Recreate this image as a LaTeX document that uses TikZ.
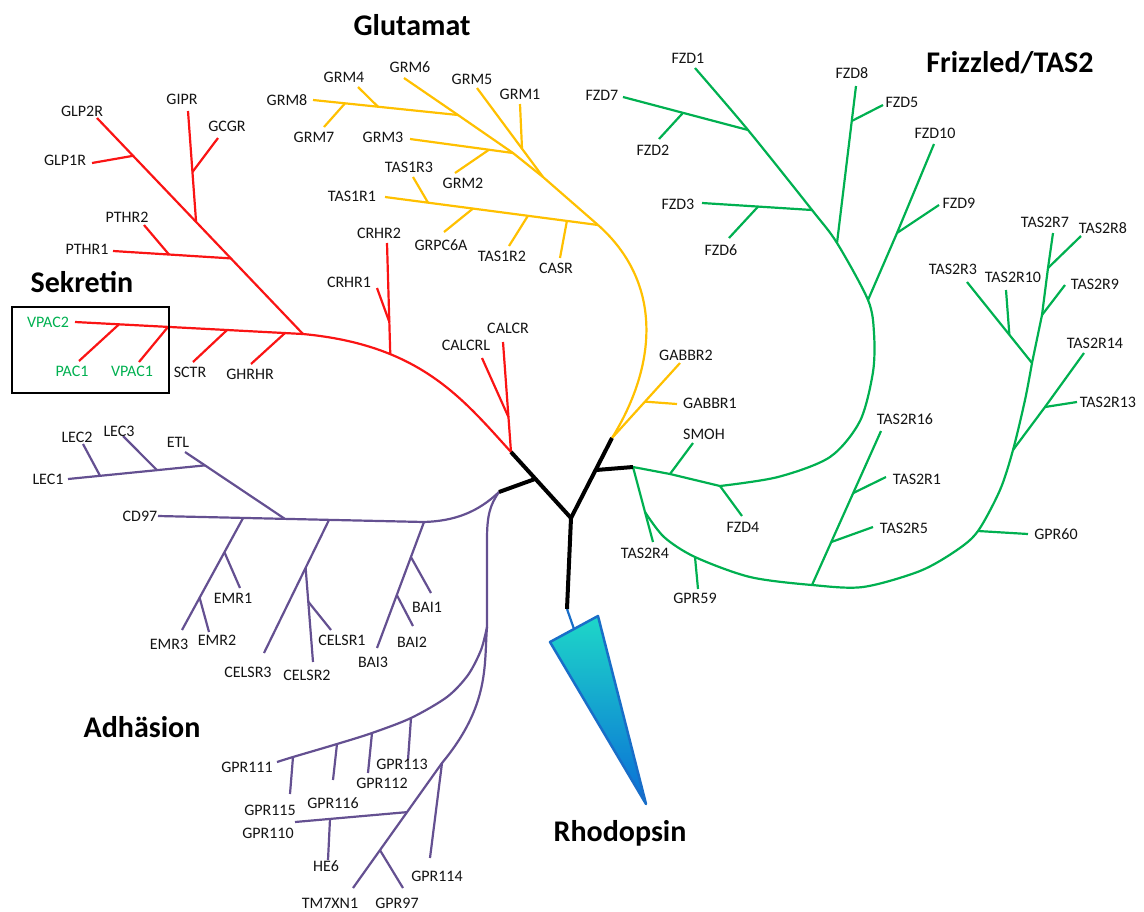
\documentclass[tikz,border=0pt]{standalone}
\usepackage{fontspec}
\setmainfont{Carlito}
\definecolor{cred}{RGB}{250,20,20}
\definecolor{cyel}{RGB}{255,192,0}
\definecolor{cgrn}{RGB}{0,176,80}
\definecolor{cpur}{RGB}{100,80,145}
\definecolor{ctxt}{RGB}{20,20,20}
\definecolor{rhotop}{RGB}{30,215,200}
\definecolor{rhobot}{RGB}{10,110,215}
\definecolor{rhoedge}{RGB}{25,110,200}
\begin{document}
\begin{tikzpicture}[x=1pt,y=-1pt,
  lbl/.style={font=\fontsize{16}{18}\selectfont, text=ctxt, inner sep=0pt},
  glbl/.style={lbl, text=cgrn},
  ttl/.style={font=\fontsize{30}{34}\selectfont\bfseries, text=black, inner sep=0pt},
  br/.style={line width=2.2pt, line join=round},
  rb/.style={br, cred}, yb/.style={br, cyel}, gb/.style={br, cgrn}, pb/.style={br, cpur},
  core/.style={line width=4pt, black, line join=round}]
\path[use as bounding box] (0,0) rectangle (1144,911);

% ---------- core coordinates
\coordinate (cR) at (511,452);
\coordinate (cM1) at (535,479);
\coordinate (cP) at (499,492);
\coordinate (cC) at (571,518);
\coordinate (cB) at (567,609);
\coordinate (cY) at (612,438);
\coordinate (cYj) at (596,470);
\coordinate (cG) at (633,467);

% ---------- Rhodopsin
\coordinate (rhT) at (574,629);
\draw[line width=2.2pt, rhoedge] (cB) -- (rhT);
\shadedraw[top color=rhotop, bottom color=rhobot, draw=rhoedge, line width=2.5pt, line join=round]
  (550,642) -- (598,616) -- (646,804) -- cycle;
\node[ttl] (tRho) at (620,833) {Rhodopsin};

% ---------- Sekretin (red)
\coordinate (rA) at (303,334);
\coordinate (eVP2) at (75,322);
\draw[rb] (cR) .. controls (462,398) and (420,345) .. (rA) coordinate[pos=0.7] (jCRH);
\draw[rb] (rA) -- (eVP2) coordinate[pos=0.079] (jGH) coordinate[pos=0.333] (jSC)
   coordinate[pos=0.592] (jV1) coordinate[pos=0.807] (jPA);
\coordinate (eGLP2) at (97,118);
\draw[rb] (rA) -- (eGLP2) coordinate[pos=0.35] (jPT) coordinate[pos=0.519] (jGI) coordinate[pos=0.825] (jGL1);
\coordinate (eGLP1) at (92,163);
\coordinate (eGIPR) at (188,111);
\coordinate (eGCGR) at (218,138);
\coordinate (ePT1) at (113,251);
\coordinate (ePT2) at (144,225);
\draw[rb] (jGL1) -- (eGLP1);
\draw[rb] (jGI) -- (eGIPR) coordinate[pos=0.45] (jGC);
\draw[rb] (jGC) -- (eGCGR);
\draw[rb] (jPT) -- (ePT1) coordinate[pos=0.525] (jPT2);
\draw[rb] (jPT2) -- (ePT2);
\coordinate (eGH) at (251,364);
\coordinate (eSC) at (193,362);
\coordinate (eV1) at (139,362);
\coordinate (ePA) at (79,361);
\draw[rb] (jGH) -- (eGH);
\draw[rb] (jSC) -- (eSC);
\draw[rb] (jV1) -- (eV1);
\draw[rb] (jPA) -- (ePA);
\coordinate (eCR2) at (387,243);
\coordinate (eCR1) at (377,288);
\draw[rb] (jCRH) -- (eCR2) coordinate[pos=0.29] (jCR1);
\draw[rb] (jCR1) -- (eCR1);
\coordinate (eCA) at (503,342);
\coordinate (eCAL) at (482,358);
\draw[rb] (cR) -- (eCA) coordinate[pos=0.318] (jCAL);
\draw[rb] (jCAL) -- (eCAL);

\node[draw=black, line width=2pt, inner sep=0pt, minimum width=157pt, minimum height=86pt] (box) at (90.5,350) {};
\node[ttl] (tSek) at (82,282) {Sekretin};
\node[lbl] (nGLP2R) at (82,111) {GLP2R};
\node[lbl] (nGLP1R) at (65,160) {GLP1R};
\node[lbl] (nGIPR) at (182,99) {GIPR};
\node[lbl] (nGCGR) at (227,126) {GCGR};
\node[lbl] (nPTHR2) at (127,217) {PTHR2};
\node[lbl] (nPTHR1) at (87,249) {PTHR1};
\node[glbl] (nVPAC2) at (48,322) {VPAC2};
\node[glbl] (nPAC1) at (72,371) {PAC1};
\node[glbl] (nVPAC1) at (132,371) {VPAC1};
\node[lbl] (nSCTR) at (190,372) {SCTR};
\node[lbl] (nGHRHR) at (250,374) {GHRHR};
\node[lbl] (nCRHR2) at (379,233) {CRHR2};
\node[lbl] (nCRHR1) at (349,282) {CRHR1};
\node[lbl] (nCALCRL) at (466,345) {CALCRL};
\node[lbl] (nCALCR) at (508,328) {CALCR};

% ---------- Glutamat (yellow)
\coordinate (yT1) at (598,225);
\coordinate (yT2) at (543,177);
\coordinate (yT3) at (513,153);
\coordinate (yT4) at (458,115);
\coordinate (eGM6) at (404,78);
\draw[yb] (cY) .. controls (660,360) and (660,280) .. (yT1);
\coordinate (eGB2) at (680,363);
\coordinate (eGB1) at (677,404);
\draw[yb] (cY) -- (eGB2) coordinate[pos=0.485] (jGB1);
\draw[yb] (jGB1) -- (eGB1);
\coordinate (eTA1) at (385,197);
\draw[yb] (yT1) -- (eTA1) coordinate[pos=0.146] (jCAS) coordinate[pos=0.329] (jTA2)
   coordinate[pos=0.587] (jGP6) coordinate[pos=0.798] (jTA3);
\coordinate (eCAS) at (560,258);
\coordinate (eTA2) at (509,246);
\coordinate (eGP6) at (444,232);
\coordinate (eTA3) at (413,177);
\draw[yb] (jCAS) -- (eCAS);
\draw[yb] (jTA2) -- (eTA2);
\draw[yb] (jGP6) -- (eGP6);
\draw[yb] (jTA3) -- (eTA3);
\draw[yb] (yT1) -- (yT2) -- (yT3) -- (yT4) -- (eGM6);
\coordinate (eGM5) at (477,88);
\coordinate (eGM1) at (520,104);
\draw[yb] (yT2) -- (eGM5) coordinate[pos=0.318] (jGM1);
\draw[yb] (jGM1) -- (eGM1);
\coordinate (eGM3) at (410,139);
\coordinate (eGM2) at (455,173);
\draw[yb] (yT3) -- (eGM3) coordinate[pos=0.233] (jGM2);
\draw[yb] (jGM2) -- (eGM2);
\coordinate (eGM8) at (313,100);
\coordinate (eGM4) at (358,87);
\coordinate (eGM7) at (324,127);
\draw[yb] (yT4) -- (eGM8) coordinate[pos=0.552] (jGM4) coordinate[pos=0.779] (jGM7);
\draw[yb] (jGM4) -- (eGM4);
\draw[yb] (jGM7) -- (eGM7);

\node[ttl] (tGlu) at (412,25) {Glutamat};
\node[lbl] (nGRM8) at (287,100) {GRM8};
\node[lbl] (nGRM4) at (344,77) {GRM4};
\node[lbl] (nGRM7) at (314,137) {GRM7};
\node[lbl] (nGRM6) at (410,67) {GRM6};
\node[lbl] (nGRM5) at (472,79) {GRM5};
\node[lbl] (nGRM1) at (520,94) {GRM1};
\node[lbl] (nGRM3) at (383,137) {GRM3};
\node[lbl] (nGRM2) at (463,183) {GRM2};
\node[lbl] (nTAS1R3) at (409,167) {TAS1R3};
\node[lbl] (nTAS1R1) at (352,196) {TAS1R1};
\node[lbl] (nGRPC6A) at (441,245) {GRPC6A};
\node[lbl] (nTAS1R2) at (502,256) {TAS1R2};
\node[lbl] (nCASR) at (556,268) {CASR};
\node[lbl] (nGABBR2) at (686,355) {GABBR2};
\node[lbl] (nGABBR1) at (710,403) {GABBR1};

% ---------- Frizzled / TAS2 (green)
\coordinate (gS) at (670,474);
\coordinate (gF4) at (720,486);
\coordinate (gF10) at (868,300);
\coordinate (gF8) at (837,243);
\coordinate (gF3) at (812,210);
\coordinate (gF7) at (748,130);
\coordinate (eFZ1) at (695,68);
\draw[gb] (cG) -- (gS) -- (gF4);
\draw[gb] plot[smooth] coordinates {(gF4) (778,477) (830,457) (860,421) (873,372) (874,333) (gF10) (gF8) (gF3) (gF7) (eFZ1)};
\coordinate (gT4) at (645,512);
\coordinate (gP59) at (695,557);
\coordinate (gT16) at (812,585);
\coordinate (gP60) at (978,531);
\coordinate (gT13) at (1013,450);
\coordinate (gT3) at (1032,363);
\coordinate (gT9) at (1042,315);
\coordinate (gT8) at (1048,268);
\coordinate (eT7) at (1053,233);
\draw[gb] (cG) -- (gT4);
\draw[gb] plot[smooth] coordinates {(gT4) (664,537) (gP59) (750,577) (gT16) (863,587) (920,571) (957,550) (gP60) (1000,490) (gT13) (1025,400) (gT3)};
\draw[gb] (gT3) -- (gT9) -- (gT8) -- (eT7);
\coordinate (eSM) at (693,443);
\coordinate (eFZ4) at (742,516);
\coordinate (eT4) at (653,542);
\coordinate (eP59) at (698,589);
\draw[gb] (gS) -- (eSM);
\draw[gb] (gF4) -- (eFZ4);
\draw[gb] (gT4) -- (eT4);
\draw[gb] (gP59) -- (eP59);
\coordinate (eT16) at (881,431);
\coordinate (eT5) at (873,527);
\coordinate (eT1) at (886,477);
\draw[gb] (gT16) -- (eT16) coordinate[pos=0.279] (jT5) coordinate[pos=0.597] (jT1);
\draw[gb] (jT5) -- (eT5);
\draw[gb] (jT1) -- (eT1);
\coordinate (eP60) at (1028,534);
\draw[gb] (gP60) -- (eP60);
\coordinate (gT13b) at (1045,407);
\coordinate (eT14) at (1084,353);
\coordinate (eT13) at (1077,402);
\draw[gb] (gT13) -- (gT13b) -- (eT14);
\draw[gb] (gT13b) -- (eT13);
\coordinate (eT3) at (967,282);
\coordinate (eT10) at (1006,290);
\draw[gb] (gT3) -- (eT3) coordinate[pos=0.348] (jT10);
\draw[gb] (jT10) -- (eT10);
\coordinate (eT9) at (1065,285);
\coordinate (eT8) at (1081,236);
\draw[gb] (gT9) -- (eT9);
\draw[gb] (gT8) -- (eT8);
\coordinate (gF9) at (897,233);
\coordinate (eFZ10) at (934,144);
\coordinate (eFZ9) at (939,205);
\draw[gb] (gF10) -- (gF9) -- (eFZ10);
\draw[gb] (gF9) -- (eFZ9);
\coordinate (eFZ8) at (856,86);
\coordinate (eFZ5) at (883,105);
\draw[gb] (gF8) -- (eFZ8) coordinate[pos=0.777] (jFZ5);
\draw[gb] (jFZ5) -- (eFZ5);
\coordinate (eFZ3) at (702,203);
\coordinate (eFZ6) at (729,238);
\draw[gb] (gF3) -- (eFZ3) coordinate[pos=0.49] (jFZ6);
\draw[gb] (jFZ6) -- (eFZ6);
\coordinate (eFZ7) at (623,97);
\coordinate (eFZ2) at (659,139);
\draw[gb] (gF7) -- (eFZ7) coordinate[pos=0.52] (jFZ2);
\draw[gb] (jFZ2) -- (eFZ2);

\node[ttl] (tFri) at (1010,63) {Frizzled/TAS2};
\node[lbl] (nFZD1) at (688,58) {FZD1};
\node[lbl] (nFZD7) at (602,95) {FZD7};
\node[lbl] (nFZD2) at (653,150) {FZD2};
\node[lbl] (nFZD3) at (678,204) {FZD3};
\node[lbl] (nFZD6) at (721,250) {FZD6};
\node[lbl] (nFZD8) at (852,73) {FZD8};
\node[lbl] (nFZD5) at (902,102) {FZD5};
\node[lbl] (nFZD10) at (935,133) {FZD10};
\node[lbl] (nFZD9) at (959,203) {FZD9};
\node[lbl] (nSMOH) at (704,434) {SMOH};
\node[lbl] (nFZD4) at (743,527) {FZD4};
\node[lbl] (nTAS2R4) at (645,553) {TAS2R4};
\node[lbl] (nGPR59) at (695,598) {GPR59};
\node[lbl] (nTAS2R16) at (905,419) {TAS2R16};
\node[lbl] (nTAS2R1) at (917,479) {TAS2R1};
\node[lbl] (nTAS2R5) at (904,528) {TAS2R5};
\node[lbl] (nGPR60) at (1056,534) {GPR60};
\node[lbl] (nTAS2R13) at (1108,402) {TAS2R13};
\node[lbl] (nTAS2R14) at (1095,343) {TAS2R14};
\node[lbl] (nTAS2R9) at (1095,284) {TAS2R9};
\node[lbl] (nTAS2R8) at (1103,228) {TAS2R8};
\node[lbl] (nTAS2R7) at (1045,222) {TAS2R7};
\node[lbl] (nTAS2R3) at (953,269) {TAS2R3};
\node[lbl] (nTAS2R10) at (1013,277) {TAS2R10};

% ---------- Adhaesion (purple)
\coordinate (pB) at (424,522);
\coordinate (eCD) at (158,516);
\draw[pb] (cP) .. controls (478,512) and (455,521) .. (pB) -- (eCD)
   coordinate[pos=0.357] (pCE) coordinate[pos=0.523] (pE) coordinate[pos=0.680] (pEM);
\coordinate (eETL) at (185,452);
\draw[pb] (pE) -- (eETL) coordinate[pos=0.8] (pL);
\coordinate (eLE1) at (68,479);
\coordinate (eLE3) at (123,436);
\coordinate (eLE2) at (83,444);
\draw[pb] (pL) -- (eLE1) coordinate[pos=0.35] (jLE3) coordinate[pos=0.766] (jLE2);
\draw[pb] (jLE3) -- (eLE3);
\draw[pb] (jLE2) -- (eLE2);
\coordinate (eEM3) at (182,630);
\coordinate (eEM1) at (240,588);
\coordinate (eEM2) at (209,632);
\draw[pb] (pEM) -- (eEM3) coordinate[pos=0.306] (jEM1) coordinate[pos=0.712] (jEM2);
\draw[pb] (jEM1) -- (eEM1);
\draw[pb] (jEM2) -- (eEM2);
\coordinate (eCE3) at (264,653);
\coordinate (eCE2) at (313,662);
\coordinate (eCE1) at (331,630);
\draw[pb] (pCE) -- (eCE3) coordinate[pos=0.36] (jCE2);
\draw[pb] (jCE2) -- (eCE2) coordinate[pos=0.36] (jCE1);
\draw[pb] (jCE1) -- (eCE1);
\coordinate (eBA3) at (377,648);
\coordinate (eBA1) at (431,593);
\coordinate (eBA2) at (413,626);
\draw[pb] (pB) -- (eBA3) coordinate[pos=0.278] (jBA1) coordinate[pos=0.579] (jBA2);
\draw[pb] (jBA1) -- (eBA1);
\draw[pb] (jBA2) -- (eBA2);
% lower adhesion
\coordinate (pV) at (487,540);
\coordinate (pD) at (487,627);
\draw[pb] (cP) .. controls (490,505) and (487,515) .. (pV) -- (pD);
\coordinate (jG113) at (411,718);
\coordinate (jG112) at (372,733);
\coordinate (jG116) at (337,744);
\coordinate (jG115) at (293,757);
\coordinate (eG111) at (277,762);
\draw[pb] plot[smooth] coordinates {(pD) (481,650) (468,675) (447,697) (jG113) (jG112) (jG116) (jG115) (eG111)};
\coordinate (eG113) at (408,760);
\coordinate (eG112) at (368,773);
\coordinate (eG116) at (333,780);
\coordinate (eG115) at (290,794);
\draw[pb] (jG113) -- (eG113);
\draw[pb] (jG112) -- (eG112);
\draw[pb] (jG116) -- (eG116);
\draw[pb] (jG115) -- (eG115);
\coordinate (pK) at (442,763);
\coordinate (eTM) at (353,888);
\draw[pb] (pD) .. controls (484,665) and (490,705) .. (pK) -- (eTM)
   coordinate[pos=0.393] (jG110) coordinate[pos=0.697] (jG97);
\coordinate (eG114) at (430,858);
\draw[pb] (pK) -- (eG114);
\coordinate (eG110) at (295,822);
\coordinate (eHE) at (328,860);
\draw[pb] (jG110) -- (eG110) coordinate[pos=0.6875] (jHE);
\draw[pb] (jHE) -- (eHE);
\coordinate (eG97) at (403,888);
\draw[pb] (jG97) -- (eG97);

\node[ttl] (tAdh) at (142,727) {Adhäsion};
\node[lbl] (nLEC1) at (48,479) {LEC1};
\node[lbl] (nLEC2) at (77,437) {LEC2};
\node[lbl] (nLEC3) at (119,431) {LEC3};
\node[lbl] (nETL) at (178,442) {ETL};
\node[lbl] (nCD97) at (140,516) {CD97};
\node[lbl] (nEMR1) at (233,598) {EMR1};
\node[lbl] (nEMR2) at (217,640) {EMR2};
\node[lbl] (nEMR3) at (169,644) {EMR3};
\node[lbl] (nCELSR1) at (342,640) {CELSR1};
\node[lbl] (nCELSR2) at (307,675) {CELSR2};
\node[lbl] (nCELSR3) at (248,672) {CELSR3};
\node[lbl] (nBAI1) at (427,607) {BAI1};
\node[lbl] (nBAI2) at (412,642) {BAI2};
\node[lbl] (nBAI3) at (373,662) {BAI3};
\node[lbl] (nGPR111) at (247,767) {GPR111};
\node[lbl] (nGPR115) at (270,810) {GPR115};
\node[lbl] (nGPR116) at (333,803) {GPR116};
\node[lbl] (nGPR112) at (382,783) {GPR112};
\node[lbl] (nGPR113) at (402,764) {GPR113};
\node[lbl] (nGPR110) at (268,833) {GPR110};
\node[lbl] (nHE6) at (326,866) {HE6};
\node[lbl] (nGPR114) at (437,876) {GPR114};
\node[lbl] (nTM7XN1) at (330,903) {TM7XN1};
\node[lbl] (nGPR97) at (397,903) {GPR97};

% ---------- core (black) on top
\draw[core] (cR) -- (cC);
\draw[core] (cM1) -- (cP);
\draw[core] (cC) -- (cB);
\draw[core] (cC) -- (cY);
\draw[core] (cYj) -- (cG);
\end{tikzpicture}
\end{document}
